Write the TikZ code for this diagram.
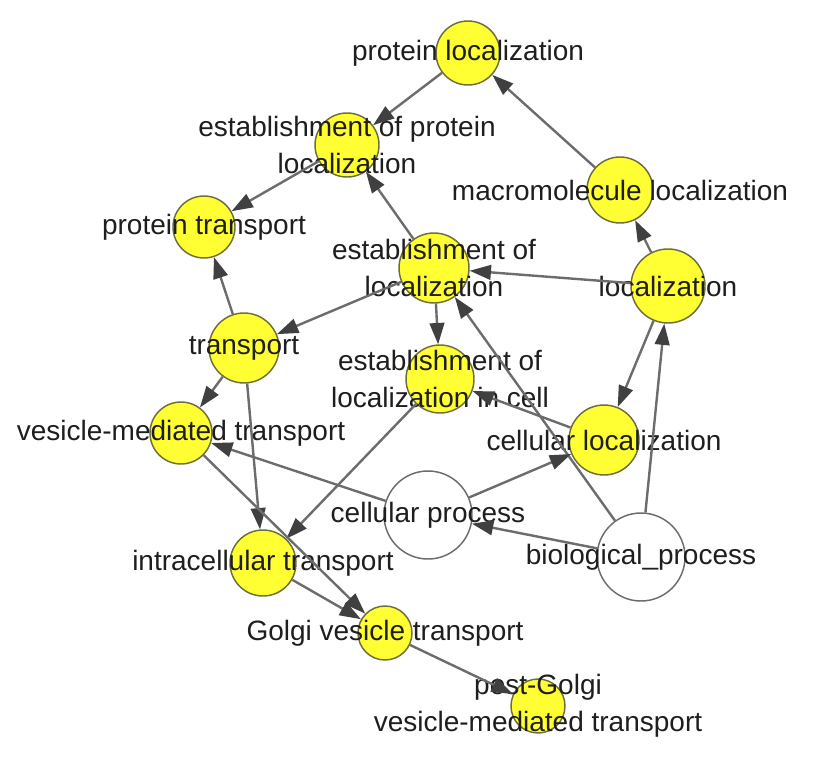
\documentclass[tikz,border=0pt]{standalone}
\usepackage{fontspec}
\setmainfont{Liberation Sans}
\usepackage{tikz}
\usetikzlibrary{arrows.meta}
\definecolor{goYellow}{RGB}{255,255,51}
\definecolor{goYellowDark}{RGB}{110,110,60}
\definecolor{gogray}{RGB}{108,108,108}
\definecolor{godark}{RGB}{64,64,64}
\definecolor{gotext}{RGB}{30,30,30}

\begin{document}
\begin{tikzpicture}[x=0.75pt,y=-0.75pt,
  term/.style={circle, draw=goYellowDark, fill=goYellow, line width=1.1pt, inner sep=0pt, minimum size=#1},
  root/.style={circle, draw=gogray, fill=white, line width=1.1pt, inner sep=0pt, minimum size=#1},
  lbl/.style={text=gotext, font=\fontsize{21}{28}\selectfont, align=center},
  edge/.style={gogray, line width=1.8pt, -{Triangle[length=16pt,width=11pt,color=godark]}}]
\useasboundingbox (0,0) rectangle (827,759);

% GO terms
\node[term=48pt, label={[lbl]center:protein localization}] (pl) at (468,53) {};
\node[term=48pt, label={[lbl]center:{establishment of protein\\localization}}] (epl) at (347,145) {};
\node[term=46.5pt, label={[lbl]center:protein transport}] (pt) at (204,227) {};
\node[term=49.5pt, label={[lbl]center:macromolecule localization}] (ml) at (620,190) {};
\node[term=52.5pt, label={[lbl]center:{establishment of\\localization}}] (el) at (434,268) {};
\node[term=55.5pt, label={[lbl]center:localization}] (loc) at (668,286) {};
\node[term=52.5pt, label={[lbl]center:transport}] (tr) at (244,348) {};
\node[term=51pt, label={[lbl]center:{establishment of\\localization in cell}}] (elc) at (440,379) {};
\node[term=46.5pt, label={[lbl]center:vesicle-mediated transport}] (vmt) at (181,433) {};
\node[term=52.5pt, label={[lbl]center:cellular localization}] (cl) at (604,440) {};
\node[root=66pt, label={[lbl]center:cellular process}] (cp) at (428,515) {};
\node[root=66pt, label={[lbl]center:biological\_process}] (bp) at (641,557) {};
\node[term=49.5pt, label={[lbl]center:intracellular transport}] (it) at (263,563) {};
\node[term=40.5pt, label={[lbl]center:Golgi vesicle transport}] (gvt) at (385,633) {};
\node[term=40.5pt, label={[lbl]center:{post-Golgi\\vesicle-mediated transport}}] (pgv) at (538,706) {};

% is_a links
\foreach \a/\b in {pl/epl, ml/pl, epl/pt, el/epl, loc/ml, loc/el, el/tr, el/elc,
  tr/pt, tr/vmt, tr/it, elc/it, loc/cl, cl/elc, bp/el, bp/loc, bp/cp, cp/cl,
  cp/vmt, vmt/gvt, it/gvt, gvt/pgv}{
  \draw[edge] (\a) -- (\b);
}
\end{tikzpicture}
\end{document}
